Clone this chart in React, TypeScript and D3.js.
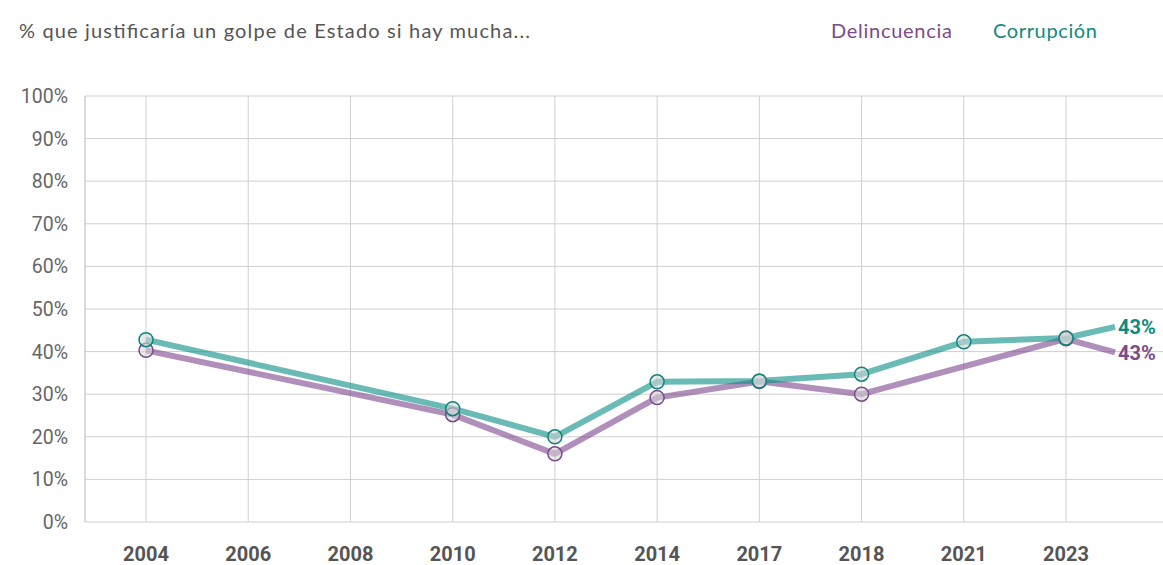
import React from "react";
import * as d3 from "d3";

const years = ["2004", "2006", "2008", "2010", "2012", "2014", "2017", "2018", "2021", "2023"];
const delincuencia: (number | null)[] = [40.3, null, null, 25.2, 16.0, 29.2, 33.0, 30.0, null, 43.0];
const corrupcion: (number | null)[] = [42.8, null, null, 26.6, 20.0, 32.9, 33.1, 34.7, 42.3, 43.2];
const endValues = { delincuencia: 39.8, corrupcion: 45.8 };
const endLabels = { delincuencia: "43%", corrupcion: "43%" };
const yTicks = [0, 10, 20, 30, 40, 50, 60, 70, 80, 90, 100];
const title = "% que justificaría un golpe de Estado si hay mucha...";

const W = 1163;
const H = 565;
const plot = { left: 85, right: 1163, top: 96, bottom: 522 };

const series = [
  { name: "Delincuencia", values: delincuencia, end: endValues.delincuencia, label: endLabels.delincuencia, line: "#7f4c8f", dot: "#7a4a8a", text: "#7a4a8a" },
  { name: "Corrupción", values: corrupcion, end: endValues.corrupcion, label: endLabels.corrupcion, line: "#0e9088", dot: "#0c857b", text: "#0e8a80" },
];

export default function App() {
  const x = d3.scalePoint<string>().domain(years).range([146, 1066]);
  const step = x.step();
  const y = d3.scaleLinear().domain([0, 100]).range([plot.bottom, plot.top]);
  const line = d3.line<[number, number]>().x((d) => d[0]).y((d) => d[1]);

  return (
    <svg width={W} height={H} style={{ position: "absolute", left: 0, top: 0 }} fontFamily="Roboto, sans-serif">
      <text x={19} y={38} fontFamily="Lato, sans-serif" fontSize={20} fill="#555" textLength={511} lengthAdjust="spacing">{title}</text>
      <text x={831} y={37.5} fontFamily="Lato, sans-serif" fontSize={20} fill="#7a4a8a" textLength={121} lengthAdjust="spacing">Delincuencia</text>
      <text x={993} y={37.5} fontFamily="Lato, sans-serif" fontSize={20} fill="#0e8a80" textLength={104} lengthAdjust="spacing">Corrupción</text>

      {yTicks.map((t) => (
        <g key={t}>
          <line x1={plot.left} x2={plot.right} y1={y(t)} y2={y(t)} stroke="#cfcfcf" strokeWidth={1} />
          <text x={68} y={y(t)} dy="0.36em" textAnchor="end" fontSize={19.5} fill="#666">{t}%</text>
        </g>
      ))}
      <line x1={plot.left} x2={plot.left} y1={plot.top} y2={plot.bottom} stroke="#cfcfcf" strokeWidth={1.5} />
      {years.map((yr) => (
        <g key={yr}>
          <line x1={x(yr)!} x2={x(yr)!} y1={plot.top} y2={plot.bottom} stroke="#cfcfcf" strokeWidth={1} />
          <text x={x(yr)!} y={561} textAnchor="middle" fontSize={20} fontWeight="bold" fill="#555">{yr}</text>
        </g>
      ))}

      {series.map((s) => {
        const pts: [number, number][] = [];
        s.values.forEach((v, i) => {
          if (v != null) pts.push([x(years[i])!, y(v)]);
        });
        const all = [...pts, [x(years[years.length - 1])! + step * 0.48, y(s.end)] as [number, number]];
        return (
          <g key={s.name}>
            <path d={line(all)!} fill="none" stroke={s.line} strokeOpacity={0.62} strokeWidth={6} strokeLinejoin="round" />
          </g>
        );
      })}
      {series.map((s) => (
        <g key={s.name + "dots"}>
          {s.values.map((v, i) =>
            v == null ? null : (
              <circle key={i} cx={x(years[i])!} cy={y(v)} r={7} fill="rgba(215,215,215,0.55)" stroke={s.dot} strokeWidth={1.5} />
            )
          )}
        </g>
      ))}
      {series.map((s) => (
        <text key={s.name + "lbl"} x={1118} y={y(s.end)} dy="0.36em" fontSize={20} fontWeight="bold" fill={s.text}>{s.label}</text>
      ))}
    </svg>
  );
}
